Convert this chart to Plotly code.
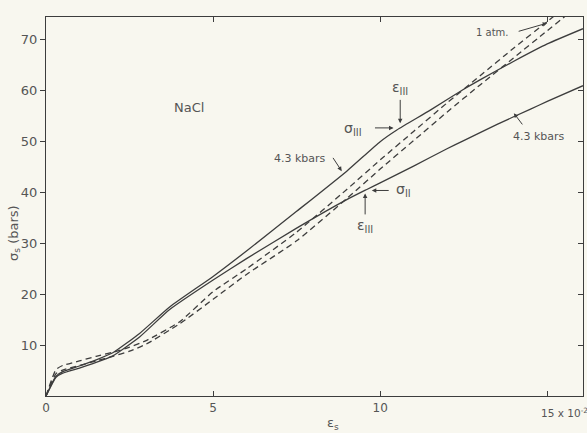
import plotly.graph_objects as go

# strain (x 10^-2) and stress (bars)
strain_solid_a = [0, 0.3, 0.5, 1.0, 1.5, 2.0, 2.8, 3.7, 5.0, 6.0, 7.5, 9.0, 10.0, 10.5, 11.5, 12.5, 13.0, 14.0, 15.0, 16.07]
stress_solid_a = [0, 3.9, 4.8, 5.9, 7.1, 8.5, 12.3, 17.5, 23.5, 28.5, 36.3, 44.2, 50.0, 52.3, 56.2, 60.3, 62.2, 65.8, 69.2, 72.2]

strain_solid_b = [0, 0.3, 0.5, 1.0, 1.5, 2.0, 2.8, 3.7, 5.0, 6.0, 7.5, 9.0, 9.6, 10.0, 11.0, 12.0, 12.5, 13.5, 14.5, 15.0, 16.07]
stress_solid_b = [0, 3.7, 4.5, 5.5, 6.6, 7.9, 11.6, 17.0, 22.8, 27.0, 33.0, 38.6, 40.6, 41.9, 45.2, 48.6, 50.2, 53.4, 56.4, 57.9, 61.0]

strain_dash_a = [0, 0.3, 0.5, 1.0, 1.5, 2.0, 2.5, 3.0, 4.0, 5.0, 6.0, 7.5, 9.0, 10.0, 11.0, 12.0, 13.0, 14.0, 15.0, 15.3]
stress_dash_a = [0, 5.2, 6.0, 6.9, 7.8, 8.6, 9.6, 10.9, 14.6, 20.5, 25.0, 32.2, 40.6, 46.4, 52.0, 57.6, 63.0, 68.4, 73.6, 75.2]

strain_dash_b = [0, 0.3, 0.5, 1.0, 1.5, 2.0, 2.5, 3.0, 4.0, 5.0, 6.0, 7.5, 9.0, 10.0, 11.0, 12.0, 13.0, 14.0, 15.0, 15.6]
stress_dash_b = [0, 4.4, 5.1, 6.0, 6.9, 7.8, 8.8, 10.2, 14.2, 19.0, 23.9, 30.5, 38.8, 44.6, 50.2, 55.8, 61.2, 66.5, 71.8, 75.0]

x_tickvals = [0, 5, 10, 15]
x_ticktext = ["0", "5", "10", " "]
y_tickvals = [10, 20, 30, 40, 50, 60, 70]
y_ticktext = ["10", "20", "30", "40", "50", "60", "70"]

INK = "#3d3d3d"
TXT = "#555555"
FONT = "DejaVu Sans"

fig = go.Figure()
for xs, ys, dash in [
    (strain_solid_a, stress_solid_a, "solid"),
    (strain_solid_b, stress_solid_b, "solid"),
    (strain_dash_a, stress_dash_a, "6px,4px"),
    (strain_dash_b, stress_dash_b, "6px,4px"),
]:
    fig.add_trace(go.Scatter(x=xs, y=ys, mode="lines", showlegend=False, hoverinfo="skip",
                             line=dict(color=INK, width=1.3, dash=dash, shape="spline", smoothing=0.5)))

fig.add_trace(go.Scatter(x=[0], y=[0], yaxis="y2", mode="markers", marker=dict(opacity=0),
                         showlegend=False, hoverinfo="skip"))

ann = []
def add(text, x, y, size=12, **kw):
    d = dict(text=text, x=x, y=y, showarrow=False, xanchor="center", yanchor="middle",
             font=dict(family=FONT, size=size, color=TXT))
    d.update(kw)
    ann.append(d)

add("NaCl", 4.28, 56.8, size=13)
add("4.3 kbars", 7.6, 46.7, size=11)
add("4.3 kbars", 14.75, 51.0, size=11)
add("1 atm.", 13.35, 71.5, size=10)
add("15 x 10<sup>-2</sup>", 14.75, -0.02, size=10.5, xanchor="left", yref="paper", yanchor="top")
add("ε<sub>s</sub>", 8.6, -0.072, size=13, yref="paper")
add("σ<sub>s</sub> (bars)", -0.06, 32, size=13, xref="paper", textangle=-90)
add("ε<sub>III</sub>", 10.6, 60.5, size=14)
add("σ<sub>III</sub>", 9.2, 52.5, size=14)
add("σ<sub>II</sub>", 10.7, 40.4, size=14)
add("ε<sub>III</sub>", 9.55, 33.5, size=14)

def arrow(x, y, ax, ay):
    ann.append(dict(x=x, y=y, ax=ax, ay=ay, xref="x", yref="y", axref="x", ayref="y", text=" ",
                    showarrow=True, arrowhead=2, arrowsize=0.9, arrowwidth=1, arrowcolor=INK,
                    font=dict(size=1)))

arrow(10.6, 53.6, 10.6, 58.6)   # eps III down
arrow(10.4, 52.7, 9.8, 52.7)    # sigma III right
arrow(9.75, 40.4, 10.3, 40.4)   # sigma II left
arrow(9.55, 39.8, 9.55, 35.3)   # eps III up
arrow(8.85, 44.2, 8.55, 47.2)   # 4.3 kbars upper
arrow(14.0, 55.6, 14.3, 53.0)   # 4.3 kbars lower
arrow(15.0, 73.3, 14.1, 71.6)   # 1 atm

fig.update_layout(
    width=587, height=433,
    margin=dict(l=46, r=4, t=17, b=37),
    paper_bgcolor="#f8f7ef", plot_bgcolor="#f8f7ef",
    annotations=ann,
    xaxis=dict(range=[0, 16.07], tickvals=x_tickvals, ticktext=x_ticktext, ticks="inside",
               ticklen=5, tickcolor=INK, showline=True, linecolor=INK, linewidth=1.2, mirror="ticks",
               showgrid=False, zeroline=False, tickfont=dict(family=FONT, size=12, color=TXT)),
    yaxis=dict(range=[0, 74.5], tickvals=y_tickvals, ticktext=y_ticktext, ticks="outside",
               ticklen=5, tickcolor=INK, showline=True, linecolor=INK, linewidth=1.2, mirror=True,
               showgrid=False, zeroline=False, tickfont=dict(family=FONT, size=13, color=TXT)),
    yaxis2=dict(range=[0, 74.5], tickvals=y_tickvals, overlaying="y", side="right", ticks="inside",
                ticklen=5, tickcolor=INK, showticklabels=False, showgrid=False, zeroline=False,
                showline=False),
)

fig.write_html("out.html", config={"displayModeBar": False},
               post_script="document.body.style.margin='0';document.body.style.background='#f8f7ef';")
